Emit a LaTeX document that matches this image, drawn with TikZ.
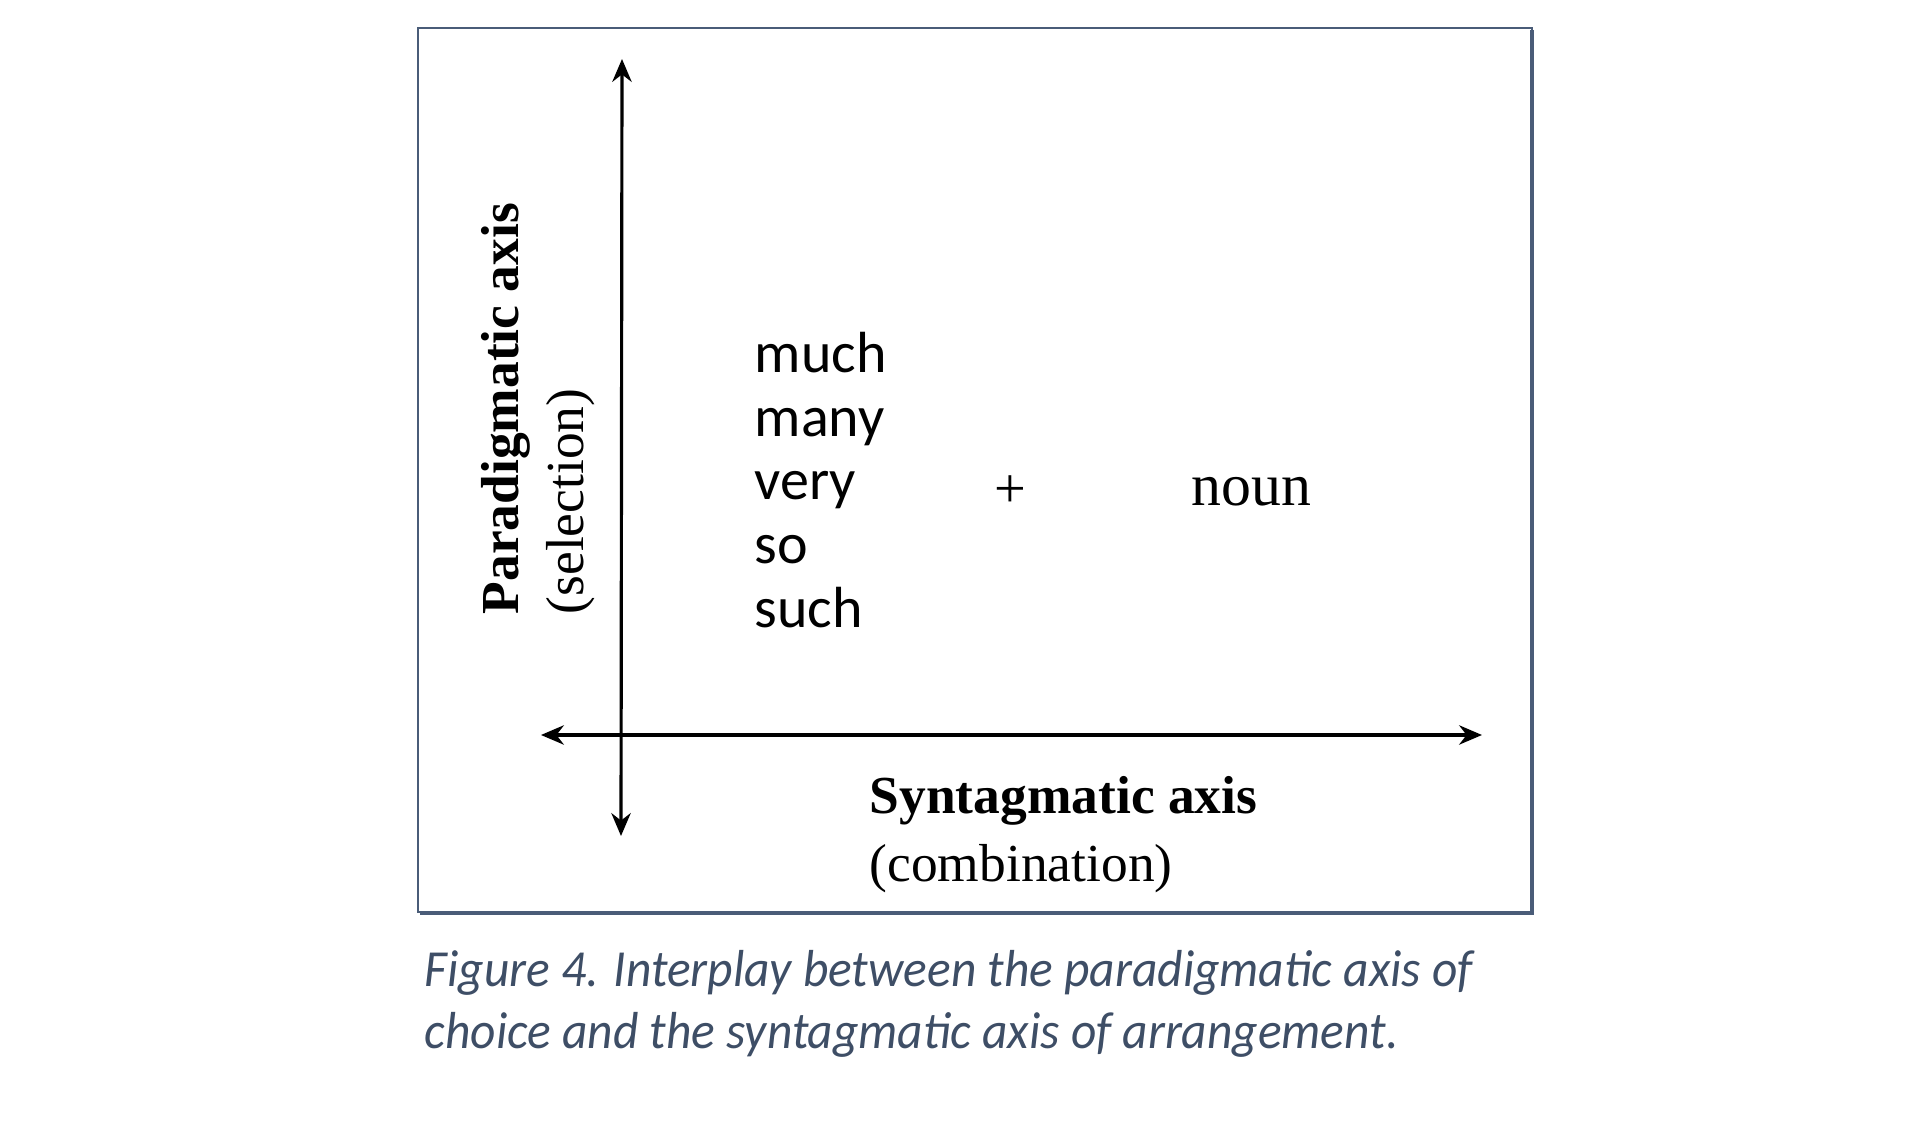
\documentclass[tikz,border=0pt]{standalone}
\usepackage{fontspec}
\setmainfont{Liberation Serif}
\newfontfamily\capfont{Carlito}
\usetikzlibrary{arrows.meta}
\definecolor{boxblue}{HTML}{4A5C78}
\definecolor{capblue}{HTML}{3E4E66}
\tikzset{
  axisline/.style={line width=0.9pt, {Stealth[length=6.5pt,width=5.5pt]}-{Stealth[length=6.5pt,width=5.5pt]}},
  word/.style={inner sep=0pt, anchor=base west, font=\capfont\fontsize{16.5}{18}\selectfont},
  serif/.style={inner sep=0pt, font=\fontsize{15.2}{17}\selectfont},
  capt/.style={inner sep=0pt, anchor=base west, xscale=0.95, text=capblue, font=\capfont\itshape\fontsize{14.8}{17}\selectfont}
}
\begin{document}
\begin{tikzpicture}[x=0.01cm,y=-0.01cm]
\useasboundingbox (0,0) rectangle (1920,1128);
% frame
\draw[boxblue, line width=0.6pt] (418,28) rectangle (1532,912);
\draw[boxblue, line width=1.3pt] (1532,30) -- (1532,913) -- (420,913);
% axes
\coordinate (vtop) at (622,59);
\coordinate (vbot) at (621,836);
\coordinate (hl) at (541,735);
\coordinate (hr) at (1482,735);
\draw[axisline] (vbot) -- (vtop);
\draw[axisline] (hl) -- (hr);
% axis labels
\node[serif, font=\bfseries\fontsize{15.2}{17}\selectfont, rotate=90, anchor=west] (para) at (506,615) {Paradigmatic axis};
\node[serif, rotate=90, anchor=west] (sel) at (571,615) {(selection)};
\node[serif, font=\bfseries\fontsize{15.2}{17}\selectfont, anchor=base west] (synt) at (869,814) {Syntagmatic axis};
\node[serif, anchor=base west] (comb) at (869,882) {(combination)};
% words
\node[word] (w1) at (754,373) {much};
\node[word] (w2) at (754,437) {many};
\node[word] (w3) at (754,500) {very};
\node[word] (w4) at (754,564) {so};
\node[word] (w5) at (754,628) {such};
\node[serif, font=\fontsize{16}{18}\selectfont] (plus) at (1010,492) {+};
\node[serif, font=\fontsize{17}{19}\selectfont, anchor=base west] (noun) at (1191,506) {noun};
% caption
\node[capt] (cap1) at (424,987) {Figure 4. Interplay between the paradigmatic axis of};
\node[capt] (cap2) at (424,1049) {choice and the syntagmatic axis of arrangement.};
\end{tikzpicture}
\end{document}
